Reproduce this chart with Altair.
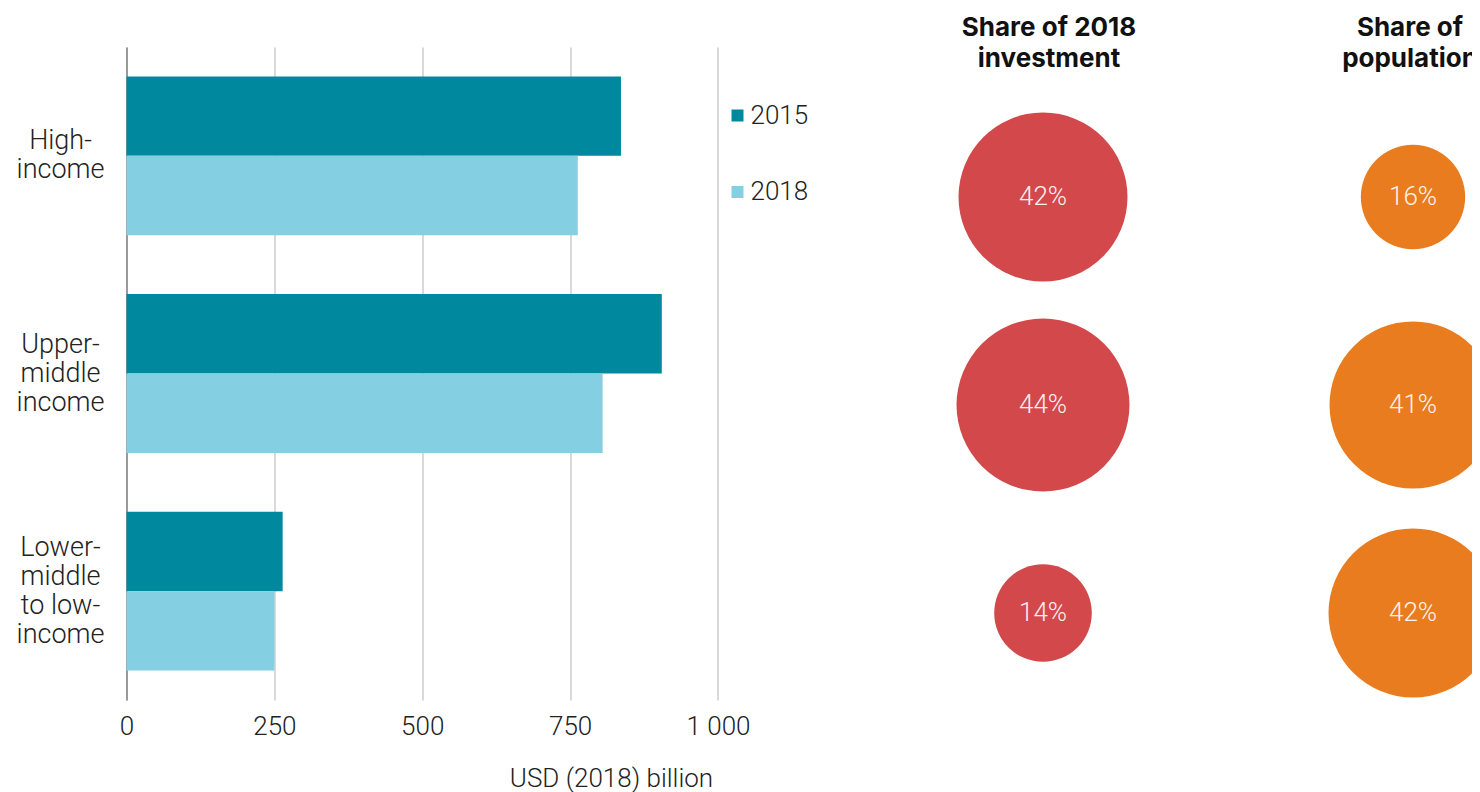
import altair as alt
import pandas as pd

categories = ["High-\nincome", "Upper-\nmiddle\nincome", "Lower-\nmiddle\nto low-\nincome"]
years = ["2015", "2018"]
invest_2015 = [836, 905, 264]
invest_2018 = [763, 805, 250]

measures = ["Share of 2018\ninvestment", "Share of\npopulation"]
share_investment = [42, 44, 14]
share_population = [16, 41, 42]

tick_values = [0, 250, 500, 750, 1000]

bars_df = pd.DataFrame({
    "category": categories * 2,
    "year": [years[0]] * 3 + [years[1]] * 3,
    "value": invest_2015 + invest_2018,
})
bub_df = pd.DataFrame({
    "category": categories * 2,
    "measure": [measures[0]] * 3 + [measures[1]] * 3,
    "share": share_investment + share_population,
})
bub_df["label"] = bub_df["share"].astype(str) + "%"
titles_df = pd.DataFrame({"measure": measures})

LF = "Roboto"
W = 1345
H = 653
LH = 29

label_offset = {
    "condition": [
        {"test": "length(split(datum.value, '\\n')) === 2", "value": -LH / 2},
        {"test": "length(split(datum.value, '\\n')) === 3", "value": -LH},
    ],
    "value": -1.5 * LH,
}

bars = alt.Chart(bars_df).mark_bar().encode(
    x=alt.X(
        "value:Q",
        scale=alt.Scale(domain=[0, 2274], nice=False, zero=True),
        axis=alt.Axis(
            values=tick_values, grid=True, gridColor="#D9D9D9", gridWidth=2,
            domain=False, ticks=False, labelFont=LF, labelFontWeight=300,
            labelFontSize=26, labelColor="#222", labelBaseline="alphabetic",
            labelPadding=34, labelFlush=False,
            labelExpr="replace(format(datum.value, ','), ',', ' ')",
            title="USD (2018) billion", titleFont=LF, titleFontWeight=300,
            titleFontSize=26, titleColor="#222", titleX=484.5, titleY=86,
            titleBaseline="alphabetic", titleAlign="center",
        ),
    ),
    y=alt.Y(
        "category:N", sort=categories,
        scale=alt.Scale(paddingInner=0.27, paddingOuter=0.135),
        axis=alt.Axis(
            title=None, labelAlign="center", labelBaseline="middle",
            labelPadding=66.5, labelOffset=label_offset, ticks=False,
            domainColor="#9A9A9A", domainWidth=2, labelFont=LF,
            labelFontWeight=300, labelFontSize=27, labelLineHeight=LH,
            labelColor="#222", labelExpr="split(datum.label, '\\n')",
            labelLimit=0, grid=False,
        ),
    ),
    yOffset=alt.YOffset("year:N", sort=years),
    color=alt.Color(
        "year:N", sort=years,
        scale=alt.Scale(domain=years, range=["#00899E", "#84CFE1"]),
        legend=alt.Legend(
            title=None, orient="none", legendX=598, legendY=55.5,
            symbolType="square", symbolSize=144, symbolStrokeWidth=0,
            labelFont=LF, labelFontWeight=300, labelFontSize=26,
            labelColor="#222", rowPadding=50.5, labelOffset=0, padding=0,
        ),
    ),
)

bx = alt.X("measure:N", sort=measures,
           scale=alt.Scale(type="point", domain=measures, range=[916.5, 1286.5], padding=0),
           axis=None)
by = alt.Y("category:N", sort=categories,
           scale=alt.Scale(type="point", domain=categories, range=[150, 566], padding=0),
           axis=None)

circles = alt.Chart(bub_df).mark_circle(opacity=1).encode(
    x=bx, y=by,
    size=alt.Size("share:Q", scale=alt.Scale(type="linear", domain=[0, 100], range=[0, 68000], zero=True), legend=None),
    color=alt.Color("measure:N", scale=alt.Scale(domain=measures, range=["#D2484B", "#E87C1E"]), legend=None),
)
pct = alt.Chart(bub_df).mark_text(
    font=LF, fontWeight=300, fontSize=26, color="#FFFFFF", opacity=0.92,
    baseline="middle", align="center",
).encode(x=bx, y=by, text="label:N")

title_style = dict(font="Inter", fontWeight="bold", fontSize=26, lineBreak="\n",
                   lineHeight=31, baseline="top", align="center", color="#111")
title1 = alt.Chart(titles_df).transform_filter(
    alt.datum.measure == measures[0]
).mark_text(dx=6, **title_style).encode(x=bx, y=alt.value(-32), text="measure:N")
title2 = alt.Chart(titles_df).transform_filter(
    alt.datum.measure == measures[1]
).mark_text(dx=-3, **title_style).encode(x=bx, y=alt.value(-32), text="measure:N")

chart = alt.layer(bars, alt.layer(circles, pct, title1, title2)).resolve_scale(
    x="independent", y="independent", color="independent"
).properties(
    width=W, height=H,
    autosize=alt.AutoSizeParams(type="none"),
    padding={"left": 118.5, "top": 39, "right": 0, "bottom": 92},
).configure_view(stroke=None)

chart.save("out.html", embed_options={"renderer": "svg", "actions": False})
